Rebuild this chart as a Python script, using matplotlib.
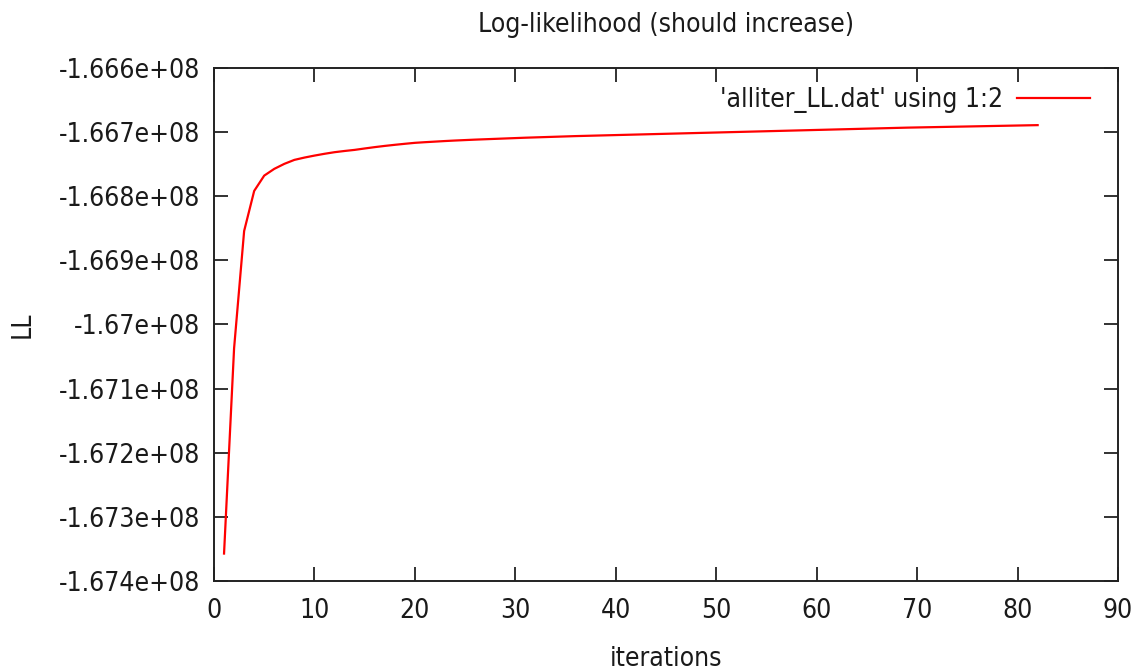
import matplotlib
matplotlib.use("Agg")
import matplotlib.pyplot as plt
from matplotlib.ticker import FixedLocator, FixedFormatter

# Log-likelihood per EM iteration (from alliter_LL.dat, columns 1:2)
iterations = list(range(1, 83))
loglik = [
    -167357200, -167037000, -166854200, -166791700, -166767800,
    -166757300, -166749500, -166743300, -166739700, -166736600,
    -166733800, -166731300, -166729400, -166727700, -166725500,
    -166723400, -166721500, -166719800, -166718200, -166716700,
    -166715700, -166714800, -166713900, -166713100, -166712400,
    -166711700, -166711100, -166710500, -166709900, -166709300,
    -166708700, -166708200, -166707700, -166707200, -166706700,
    -166706200, -166705800, -166705400, -166705000, -166704600,
    -166704200, -166703800, -166703400, -166703000, -166702600,
    -166702200, -166701800, -166701400, -166701000, -166700600,
    -166700200, -166699800, -166699400, -166699000, -166698600,
    -166698200, -166697800, -166697400, -166697000, -166696600,
    -166696200, -166695800, -166695400, -166695000, -166694600,
    -166694200, -166693800, -166693400, -166693000, -166692700,
    -166692400, -166692100, -166691800, -166691500, -166691200,
    -166690900, -166690600, -166690300, -166690000, -166689700,
    -166689400, -166689100,
]

x_ticks = [0, 10, 20, 30, 40, 50, 60, 70, 80, 90]
y_ticks = [-167400000, -167300000, -167200000, -167100000, -167000000,
           -166900000, -166800000, -166700000, -166600000]
y_tick_labels = ["-1.674e+08", "-1.673e+08", "-1.672e+08", "-1.671e+08",
                 "-1.67e+08", "-1.669e+08", "-1.668e+08", "-1.667e+08",
                 "-1.666e+08"]

plt.rcParams["font.family"] = ["DejaVu Sans"]
plt.rcParams["font.stretch"] = "condensed"
FS = 19
TXT = "#1a1a1a"

fig = plt.figure(figsize=(11.43, 6.72), dpi=100)
ax = fig.add_axes([214 / 1143, 1 - 581 / 672, (1118 - 214) / 1143, (581 - 68) / 672])

ax.plot(iterations, loglik, color="#ff0000", lw=1.6,
        label="'alliter_LL.dat' using 1:2")

ax.set_xlim(0, 90)
ax.set_ylim(-167400000, -166600000)
ax.xaxis.set_major_locator(FixedLocator(x_ticks))
ax.yaxis.set_major_locator(FixedLocator(y_ticks))
ax.yaxis.set_major_formatter(FixedFormatter(y_tick_labels))

for s in ax.spines.values():
    s.set_linewidth(1.4)
    s.set_color("#222222")

ax.tick_params(axis="both", direction="in", length=10, width=1.3,
               color="#222222", labelsize=FS, labelcolor=TXT,
               top=True, right=True)
ax.tick_params(axis="y", pad=10)
ax.tick_params(axis="x", pad=12)

ax.set_title("Log-likelihood (should increase)", fontsize=FS, color=TXT, pad=26)
ax.set_xlabel("iterations", fontsize=FS, color=TXT, labelpad=16)
ax.set_ylabel("LL", fontsize=FS, color=TXT, labelpad=17)

leg = ax.legend(loc="center right", frameon=False, markerfirst=False,
                fontsize=FS, handlelength=2.75, handletextpad=0.55,
                bbox_to_anchor=(0.969, 0.938), borderpad=0, borderaxespad=0)
for t in leg.get_texts():
    t.set_color(TXT)

fig.savefig("out.png", dpi=100)
